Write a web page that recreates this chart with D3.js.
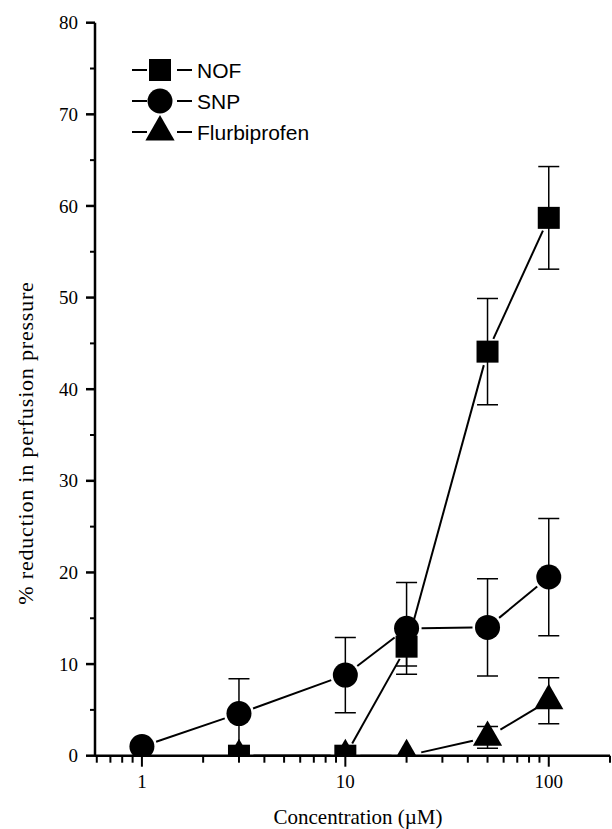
<!DOCTYPE html>
<html>
<head>
<meta charset="utf-8">
<script src="https://cdn.jsdelivr.net/npm/d3@7"></script>
<style>
  body { margin: 0; background: #fff; }
  svg { display: block; }
</style>
</head>
<body>
<div id="chart"></div>
<script>
// concentrations (uM) and mean % reduction with error
const nofConc = [3, 10, 20, 50, 100];
const nofVals = [0, 0, 11.9, 44.1, 58.7];
const nofErr = [0, 0, 2.1, 5.8, 5.6];

const snpConc = [1, 3, 10, 20, 50, 100];
const snpVals = [1.0, 4.6, 8.8, 13.9, 14.0, 19.5];
const snpErr = [0.4, 3.8, 4.1, 5.0, 5.3, 6.4];

const flurConc = [3, 10, 20, 50, 100];
const flurVals = [0, 0, 0, 2.0, 6.0];
const flurErr = [0, 0, 0, 1.2, 2.5];

const yTicks = [0, 10, 20, 30, 40, 50, 60, 70, 80];
const xTickLabels = [1, 10, 100];

const series = [
  { name: "NOF", shape: "square", conc: nofConc, vals: nofVals, err: nofErr },
  { name: "SNP", shape: "circle", conc: snpConc, vals: snpVals, err: snpErr },
  { name: "Flurbiprofen", shape: "triangle", conc: flurConc, vals: flurVals, err: flurErr }
];

const W = 612, H = 829;
const margin = { top: 22.7, right: 2, bottom: 73.3, left: 95 };

const svg = d3.select("#chart").append("svg")
  .attr("width", W)
  .attr("height", H);

const xMin = 0.588, xMax = 200;
const x = d3.scaleLog().domain([xMin, xMax]).range([margin.left, W - margin.right]);
const y = d3.scaleLinear().domain([0, 80]).range([H - margin.bottom, margin.top]);

const serif = "'Liberation Serif', 'Times New Roman', serif";
const sans = "'Liberation Sans', Arial, sans-serif";

// marker shapes
function marker(g, shape) {
  if (shape === "square") {
    g.append("rect").attr("x", -11).attr("y", -11).attr("width", 22).attr("height", 22).attr("fill", "#000");
  } else if (shape === "circle") {
    g.append("circle").attr("r", 12.5).attr("fill", "#000");
  } else {
    g.append("path").attr("d", d3.symbol(d3.symbolTriangle, 370)()).attr("fill", "#000");
  }
}
const gapFor = { square: 14, circle: 15, triangle: 15 };

// clip marks at the x axis
svg.append("defs").append("clipPath").attr("id", "plotclip")
  .append("rect")
    .attr("x", margin.left)
    .attr("y", 0)
    .attr("width", W - margin.left)
    .attr("height", y(0));

const plot = svg.append("g").attr("clip-path", "url(#plotclip)");

series.forEach(s => {
  const pts = s.conc.map((c, i) => ({ px: x(c), py: y(s.vals[i]), c: c, v: s.vals[i], e: s.err[i] }));

  // connecting lines, broken short of the markers
  for (let i = 0; i < pts.length - 1; i++) {
    const a = pts[i], b = pts[i + 1];
    const dx = b.px - a.px, dy = b.py - a.py;
    const len = Math.sqrt(dx * dx + dy * dy);
    const g = gapFor[s.shape];
    if (len <= 2 * g) continue;
    plot.append("line")
      .attr("x1", a.px + dx / len * g).attr("y1", a.py + dy / len * g)
      .attr("x2", b.px - dx / len * g).attr("y2", b.py - dy / len * g)
      .attr("stroke", "#000").attr("stroke-width", 2);
  }

  // error bars
  pts.filter(p => p.e > 0).forEach(p => {
    const eg = plot.append("g").attr("stroke", "#000").attr("stroke-width", 1.5);
    eg.append("line").attr("x1", p.px).attr("x2", p.px).attr("y1", y(p.v - p.e)).attr("y2", y(p.v + p.e));
    [p.v - p.e, p.v + p.e].forEach(v => {
      eg.append("line").attr("x1", p.px - 10.5).attr("x2", p.px + 10.5).attr("y1", y(v)).attr("y2", y(v));
    });
  });

  pts.forEach(p => {
    const g = plot.append("g").attr("transform", `translate(${p.px},${p.py})`);
    marker(g, s.shape);
  });
});

// x axis
const xMinor = [];
[0.1, 1, 10, 100].forEach(dec => {
  for (let k = 1; k <= 9; k++) {
    const v = +(dec * k).toPrecision(3);
    if (v >= 0.6 && v <= xMax) xMinor.push(v);
  }
});

const axisG = svg.append("g").attr("stroke", "#000");
axisG.append("line")
  .attr("x1", x(xMin)).attr("x2", x(xMax))
  .attr("y1", y(0)).attr("y2", y(0))
  .attr("stroke-width", 2.5);
axisG.selectAll(".xt").data(xMinor).enter().append("line")
  .attr("x1", d => x(d)).attr("x2", d => x(d))
  .attr("y1", y(0))
  .attr("y2", d => y(0) + (xTickLabels.includes(d) ? 11 : 7))
  .attr("stroke-width", 2);

svg.selectAll(".xl").data(xTickLabels).enter().append("text")
  .attr("x", d => x(d))
  .attr("y", y(0) + 32)
  .attr("text-anchor", "middle")
  .attr("font-family", serif)
  .attr("font-size", 19)
  .text(d => d);

svg.append("text")
  .attr("x", 358)
  .attr("y", H - 5)
  .attr("text-anchor", "middle")
  .attr("font-family", serif)
  .attr("font-size", 21)
  .text("Concentration (\u00B5M)");

// y axis
axisG.append("line")
  .attr("x1", x(xMin)).attr("x2", x(xMin))
  .attr("y1", y(0)).attr("y2", y(80))
  .attr("stroke-width", 2.5);
const yMinor = d3.range(5, 80, 10);
axisG.selectAll(".ytm").data(yMinor).enter().append("line")
  .attr("x1", x(xMin) - 5).attr("x2", x(xMin))
  .attr("y1", d => y(d)).attr("y2", d => y(d))
  .attr("stroke-width", 2);
axisG.selectAll(".yt").data(yTicks).enter().append("line")
  .attr("x1", x(xMin) - 9).attr("x2", x(xMin))
  .attr("y1", d => y(d)).attr("y2", d => y(d))
  .attr("stroke-width", 2.5);

svg.selectAll(".yl").data(yTicks).enter().append("text")
  .attr("x", x(xMin) - 17)
  .attr("y", d => y(d))
  .attr("dy", "0.35em")
  .attr("text-anchor", "end")
  .attr("font-family", serif)
  .attr("font-size", 19)
  .text(d => d);

svg.append("text")
  .attr("transform", `translate(33,443) rotate(-90)`)
  .attr("text-anchor", "middle")
  .attr("font-family", serif)
  .attr("font-size", 22)
  .attr("letter-spacing", 0.8)
  .text("% reduction in perfusion pressure");

// legend
const legend = svg.append("g").attr("transform", "translate(160,70)");
series.forEach((s, i) => {
  const row = legend.append("g").attr("transform", `translate(0,${i * 31})`);
  row.append("line").attr("x1", -28).attr("x2", -13).attr("y1", 0).attr("y2", 0)
    .attr("stroke", "#000").attr("stroke-width", 2);
  row.append("line").attr("x1", 17).attr("x2", 32).attr("y1", 0).attr("y2", 0)
    .attr("stroke", "#000").attr("stroke-width", 2);
  marker(row, s.shape);
  row.append("text")
    .attr("x", 37)
    .attr("dy", "0.36em")
    .attr("font-family", sans)
    .attr("font-size", 21)
    .text(s.name);
});
</script>
</body>
</html>
